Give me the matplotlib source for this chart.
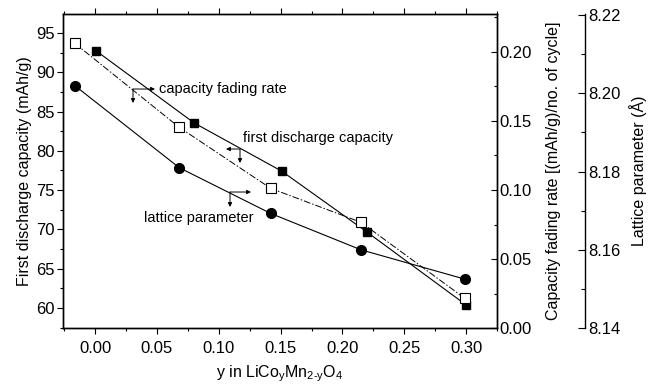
import numpy as np
import matplotlib
matplotlib.use("Agg")
import matplotlib.pyplot as plt
from matplotlib.ticker import MultipleLocator

plt.rcParams['font.family'] = ['Liberation Sans', 'DejaVu Sans']
plt.rcParams['font.size'] = 12
plt.rcParams['mathtext.fontset'] = 'custom'
plt.rcParams['mathtext.rm'] = 'Liberation Sans'
plt.rcParams['mathtext.it'] = 'Liberation Sans'

# first discharge capacity (left axis)
y_cap = [0.0005, 0.080, 0.151, 0.220, 0.300]
cap = [92.75, 83.55, 77.4, 69.65, 60.4]

# capacity fading rate (right axis)
y_fade = [-0.0165, 0.068, 0.142, 0.215, 0.299]
fade = [0.2063, 0.1454, 0.1012, 0.0766, 0.0215]

# lattice parameter (third axis)
y_lat = [-0.0165, 0.068, 0.142, 0.215, 0.299]
lat = [8.2020, 8.1810, 8.1693, 8.1600, 8.1525]

fig = plt.figure(figsize=(6.51, 3.85), dpi=100)
ax = fig.add_axes([0.0968, 0.148, 0.6666, 0.8156])
ax2 = ax.twinx()
ax3 = ax.twinx()
ax3.spines['right'].set_position(('axes', 1.2028))
for s in ['top', 'bottom', 'left']:
    ax3.spines[s].set_visible(False)
ax3.patch.set_visible(False)

ax.plot(y_cap, cap, '-', color='black', lw=0.8, marker='s', ms=5.5, mfc='black')
ax2.plot(y_fade, fade, color='black', lw=0.7, ls=(0, (7, 2, 1.5, 2)),
         marker='s', ms=6.5, mfc='white', mec='black', mew=0.8)
ax3.plot(y_lat, lat, '-', color='black', lw=0.8, marker='o', ms=7, mfc='black')

ax.set_xlim(-0.026, 0.325)
ax.set_ylim(57.46, 97.4)
ax2.set_ylim(0, 0.2275)
ax3.set_ylim(8.14, 8.2203)

ax.xaxis.set_major_locator(MultipleLocator(0.05))
ax.xaxis.set_minor_locator(MultipleLocator(0.025))
ax.yaxis.set_major_locator(MultipleLocator(5))
ax.yaxis.set_minor_locator(MultipleLocator(2.5))
ax2.yaxis.set_major_locator(MultipleLocator(0.05))
ax2.yaxis.set_minor_locator(MultipleLocator(0.025))
ax3.yaxis.set_major_locator(MultipleLocator(0.02))
ax3.yaxis.set_minor_locator(MultipleLocator(0.01))

ax.xaxis.set_major_formatter(plt.FuncFormatter(lambda v, p: f"{v:.2f}"))
ax2.yaxis.set_major_formatter(plt.FuncFormatter(lambda v, p: f"{v:.2f}"))
ax3.yaxis.set_major_formatter(plt.FuncFormatter(lambda v, p: f"{v:.2f}"))

ax.tick_params(axis='x', which='both', direction='out', top=True, pad=5)
ax.tick_params(axis='x', which='major', length=4, width=0.8)
ax.tick_params(axis='x', which='minor', length=2, width=0.8)
ax.tick_params(axis='y', which='major', direction='out', length=4, width=0.8, pad=2)
ax.tick_params(axis='y', which='minor', direction='out', length=2, width=0.8)
ax2.tick_params(axis='y', which='major', direction='in', length=4, width=0.8, pad=2)
ax2.tick_params(axis='y', which='minor', direction='in', length=2, width=0.8)
ax3.tick_params(axis='y', which='major', direction='in', length=5, width=0.8, pad=2)
ax3.tick_params(axis='y', which='minor', direction='in', length=3, width=0.8)
for a in (ax, ax2, ax3):
    for s in a.spines.values():
        s.set_linewidth(1.0)

ax.set_xlabel('y in LiCo$_\\mathregular{y}$Mn$_\\mathregular{2\\text{-}y}$O$_\\mathregular{4}$',
              fontsize=11.5, labelpad=6)
ax.set_ylabel('First discharge capacity (mAh/g)', fontsize=11.5, labelpad=3)
ax2.set_ylabel('Capacity fading rate [(mAh/g)/no. of cycle]', fontsize=11.5, labelpad=10)
ax3.set_ylabel('Lattice parameter (\u00c5)', fontsize=11.5, labelpad=6)

# corner annotations (pixel positions converted to axes fraction)
def frac(px, py):
    return ((px - 63) / 434, (328 - py) / 314)

def corner(cx, cy, hx, vy):
    a0 = frac(cx, cy)
    ax.annotate('', xy=frac(hx, cy), xytext=a0, xycoords='axes fraction',
                arrowprops=dict(arrowstyle='-|>', lw=0.7, color='black',
                                mutation_scale=6, shrinkA=0, shrinkB=0))
    ax.annotate('', xy=frac(cx, vy), xytext=a0, xycoords='axes fraction',
                arrowprops=dict(arrowstyle='-|>', lw=0.7, color='black',
                                mutation_scale=6, shrinkA=0, shrinkB=0))

corner(133, 89, 155, 103)
corner(240, 149, 226, 163)
corner(230, 192, 251, 207)

ax.text(*frac(159, 89), 'capacity fading rate', transform=ax.transAxes,
        ha='left', va='center', fontsize=10.5)
ax.text(*frac(243, 138), 'first discharge capacity', transform=ax.transAxes,
        ha='left', va='center', fontsize=10.5)
ax.text(*frac(144, 218), 'lattice parameter', transform=ax.transAxes,
        ha='left', va='center', fontsize=10.5)

fig.savefig('out.png', dpi=100)
